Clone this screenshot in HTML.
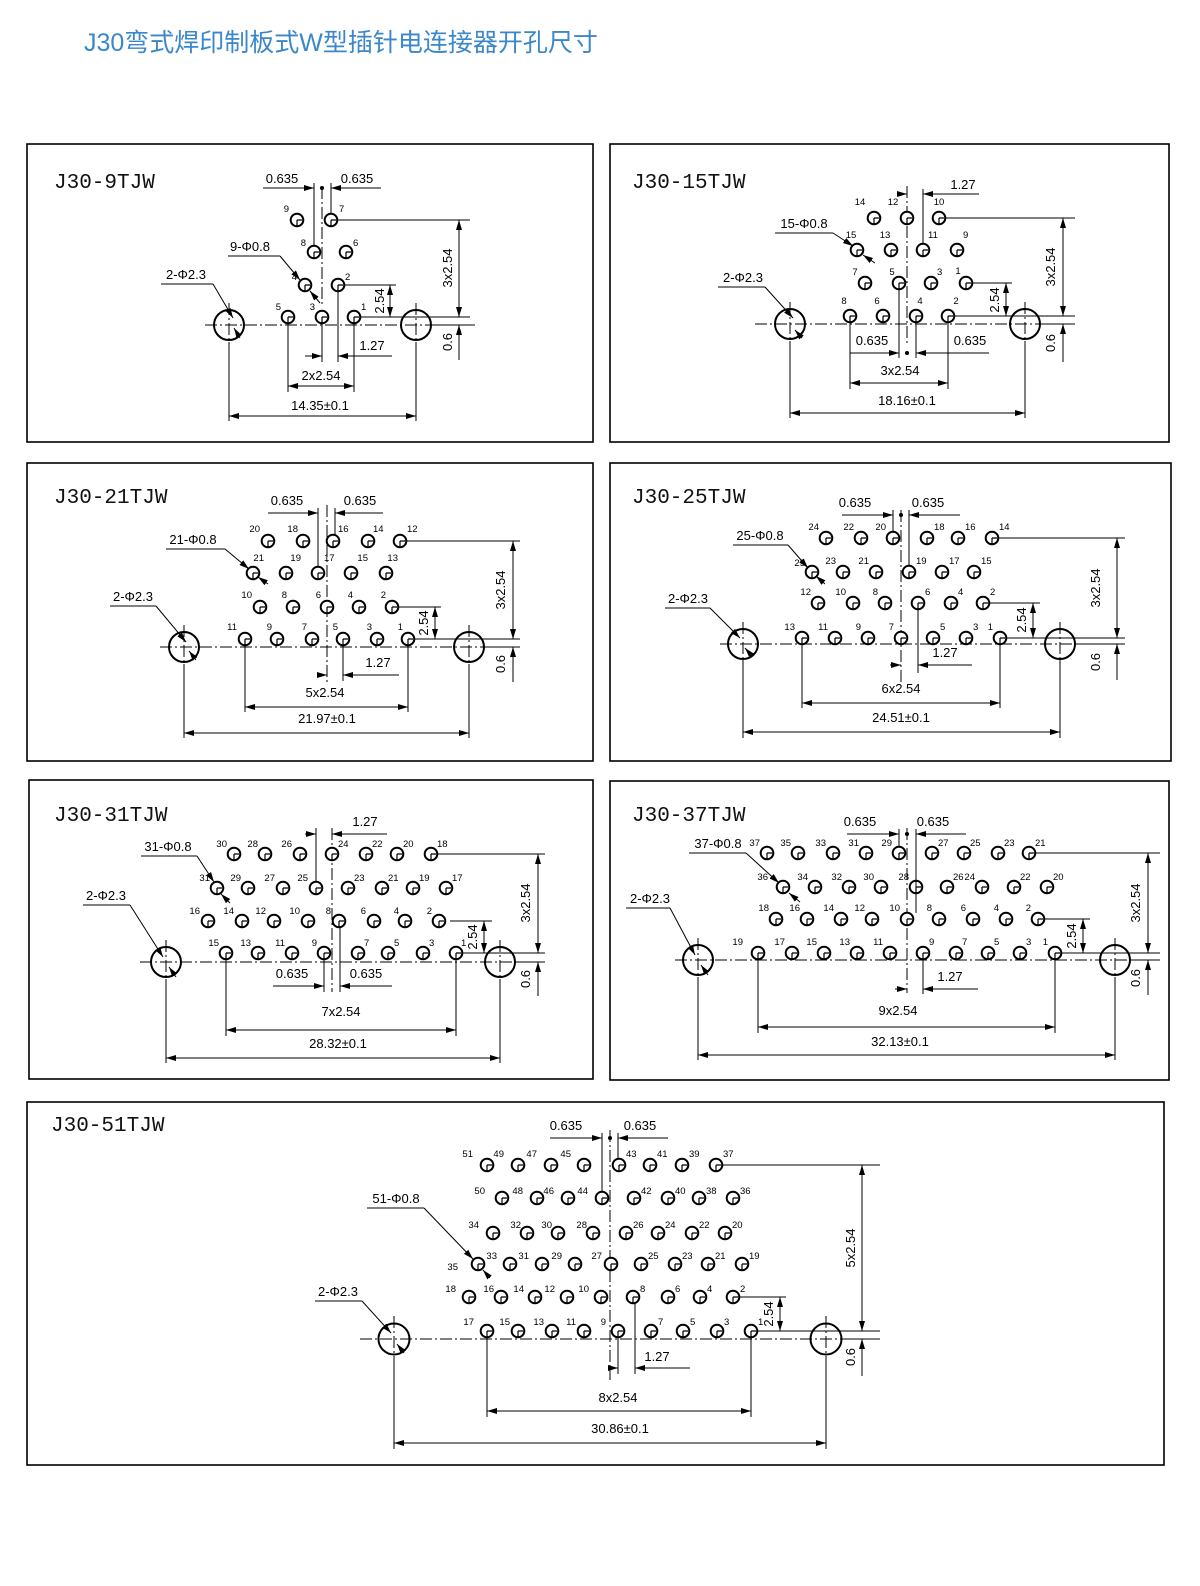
<!DOCTYPE html>
<html><head><meta charset="utf-8"><style>
html,body{margin:0;padding:0;background:#fff}
svg{display:block}
.t{font-family:"Liberation Sans","Noto Sans CJK SC",sans-serif}
.d text{font-family:"Liberation Sans",sans-serif;font-size:13px;fill:#000}
.l text{font-family:"Liberation Sans",sans-serif;font-size:9.5px;fill:#000}
.L{text-anchor:end}.M{text-anchor:middle}
.ttl{font-family:"Liberation Mono",monospace;font-size:21px;fill:#111}
line,path{stroke:#000;stroke-width:1;fill:none}
.c{stroke-dasharray:12 3 2 3}
.bx{fill:none;stroke:#000;stroke-width:1.6}
.h{fill:none;stroke:#000;stroke-width:2}
</style></head><body>
<svg width="1200" height="1586" viewBox="0 0 1200 1586" xmlns="http://www.w3.org/2000/svg">
<defs>
<marker id="a" viewBox="0 0 10 6" refX="10" refY="3" markerWidth="10" markerHeight="6" orient="auto-start-reverse" markerUnits="userSpaceOnUse"><path d="M0,0 L10,3 L0,6z" style="fill:#000;stroke:none"/></marker>
<g id="p"><circle r="6.3" cx="0" cy="0" fill="#fff" stroke="#000" stroke-width="2"/><path d="M0,0 V6 M0,0 H5" style="stroke-width:1.2"/></g>
</defs>
<text x="84" y="51" class="t" style="font-size:25px;fill:#3b87c9">J30弯式焊印制板式W型插针电连接器开孔尺寸</text>

<!-- Panel 1 -->
<rect class="bx" x="27" y="144" width="566" height="298"/>
<text class="ttl" x="54" y="188">J30-9TJW</text>
<line class="c" x1="205" y1="325" x2="475" y2="325"/><line class="c" x1="322" y1="187" x2="322" y2="305"/>
<line class="c" x1="229" y1="303" x2="229" y2="345"/><line class="c" x1="416" y1="303" x2="416" y2="345"/>
<circle class="h" cx="229" cy="325" r="15"/><circle class="h" cx="416" cy="325" r="15"/>
<use href="#p" x="354" y="317"/><use href="#p" x="322" y="317"/><use href="#p" x="288" y="317"/><use href="#p" x="338" y="285"/><use href="#p" x="305" y="285"/><use href="#p" x="346" y="252"/><use href="#p" x="314" y="252"/><use href="#p" x="331" y="220"/><use href="#p" x="297" y="220"/>
<g class="l"><text x="361" y="310">1</text><text class="L" x="315" y="310">3</text><text class="L" x="281" y="310">5</text><text x="345" y="280">2</text><text class="L" x="297" y="280">4</text><text x="353" y="246">6</text><text class="L" x="306" y="246">8</text><text x="339" y="212">7</text><text class="L" x="289" y="212">9</text></g>
<g class="d">
<line x1="263" y1="188" x2="314" y2="188" marker-end="url(#a)"/><line x1="381" y1="188" x2="331" y2="188" marker-end="url(#a)"/><circle cx="322" cy="188" r="2"/>
<line x1="314" y1="183" x2="314" y2="246"/><line x1="331" y1="183" x2="331" y2="214"/>
<text class="M" x="282" y="183">0.635</text><text class="M" x="357" y="183">0.635</text>
<line x1="338" y1="220" x2="470" y2="220"/><line x1="360" y1="317" x2="470" y2="317"/><line x1="431" y1="325" x2="470" y2="325"/>
<line x1="459" y1="220" x2="459" y2="317" marker-start="url(#a)" marker-end="url(#a)"/>
<text class="M" transform="translate(452,268) rotate(-90)">3x2.54</text>
<line x1="344" y1="285" x2="396" y2="285"/><line x1="390" y1="285" x2="390" y2="317" marker-start="url(#a)" marker-end="url(#a)"/>
<text class="M" transform="translate(384,301) rotate(-90)">2.54</text>
<line x1="459" y1="360" x2="459" y2="325" marker-end="url(#a)"/>
<text class="M" transform="translate(452,342) rotate(-90)">0.6</text>
<line x1="322" y1="317" x2="322" y2="362"/><line x1="338" y1="291" x2="338" y2="362"/>
<line x1="305" y1="356" x2="322" y2="356" marker-end="url(#a)"/><line x1="392" y1="356" x2="338" y2="356" marker-end="url(#a)"/>
<text class="M" x="372" y="350">1.27</text>
<line x1="288" y1="323" x2="288" y2="392"/><line x1="354" y1="323" x2="354" y2="392"/>
<line x1="288" y1="386" x2="354" y2="386" marker-start="url(#a)" marker-end="url(#a)"/><text class="M" x="321" y="380">2x2.54</text>
<line x1="229" y1="342" x2="229" y2="421"/><line x1="416" y1="342" x2="416" y2="421"/>
<line x1="229" y1="416" x2="416" y2="416" marker-start="url(#a)" marker-end="url(#a)"/><text class="M" x="320" y="410">14.35±0.1</text>
<text class="M" x="250" y="251">9-Φ0.8</text><line x1="228" y1="256" x2="280" y2="256"/><line x1="280" y1="256" x2="300" y2="280" marker-end="url(#a)"/><line x1="320" y1="303" x2="310" y2="291" marker-end="url(#a)"/>
<text class="M" x="186" y="279">2-Φ2.3</text><line x1="161" y1="284" x2="213" y2="284"/><line x1="213" y1="284" x2="233" y2="318" marker-end="url(#a)"/><line x1="240" y1="338" x2="234" y2="328" marker-end="url(#a)"/>
</g>

<!-- Panel 2 -->
<rect class="bx" x="610" y="144" width="559" height="298"/>
<text class="ttl" x="632" y="188">J30-15TJW</text>
<line class="c" x1="755" y1="324" x2="1075" y2="324"/><line class="c" x1="907" y1="186" x2="907" y2="345"/>
<line class="c" x1="790" y1="302" x2="790" y2="345"/><line class="c" x1="1025" y1="302" x2="1025" y2="345"/>
<circle class="h" cx="790" cy="324" r="15"/><circle class="h" cx="1025" cy="324" r="15"/>
<use href="#p" x="850" y="316"/><use href="#p" x="883" y="316"/><use href="#p" x="916" y="316"/><use href="#p" x="948" y="316"/><use href="#p" x="865" y="283"/><use href="#p" x="899" y="283"/><use href="#p" x="931" y="283"/><use href="#p" x="966" y="283"/><use href="#p" x="857" y="250"/><use href="#p" x="891" y="250"/><use href="#p" x="923" y="250"/><use href="#p" x="957" y="250"/><use href="#p" x="874" y="218"/><use href="#p" x="907" y="218"/><use href="#p" x="939" y="218"/>
<g class="l"><text class="M" x="844" y="304">8</text><text class="M" x="877" y="304">6</text><text class="M" x="920" y="304">4</text><text class="M" x="956" y="304">2</text><text class="M" x="855" y="275">7</text><text class="M" x="892" y="275">5</text><text x="937" y="275">3</text><text class="M" x="958" y="274">1</text><text class="M" x="851" y="238">15</text><text class="M" x="885" y="238">13</text><text x="928" y="238">11</text><text x="963" y="238">9</text><text class="M" x="860" y="205">14</text><text class="M" x="893" y="205">12</text><text class="M" x="939" y="205">10</text></g>
<g class="d">
<line x1="897" y1="194" x2="907" y2="194" marker-end="url(#a)"/><line x1="979" y1="194" x2="923" y2="194" marker-end="url(#a)"/><line x1="923" y1="189" x2="923" y2="244"/>
<text class="M" x="963" y="189">1.27</text>
<line x1="945" y1="218" x2="1075" y2="218"/><line x1="955" y1="316" x2="1075" y2="316"/><line x1="1040" y1="324" x2="1075" y2="324"/>
<line x1="1063" y1="218" x2="1063" y2="316" marker-start="url(#a)" marker-end="url(#a)"/>
<text class="M" transform="translate(1055,267) rotate(-90)">3x2.54</text>
<line x1="972" y1="283" x2="1012" y2="283"/><line x1="1006" y1="283" x2="1006" y2="316" marker-start="url(#a)" marker-end="url(#a)"/>
<text class="M" transform="translate(999,300) rotate(-90)">2.54</text>
<line x1="1063" y1="362" x2="1063" y2="324" marker-end="url(#a)"/><text class="M" transform="translate(1055,343) rotate(-90)">0.6</text>
<line x1="899" y1="289" x2="899" y2="358"/><line x1="916" y1="322" x2="916" y2="358"/>
<line x1="850" y1="353" x2="899" y2="353" marker-end="url(#a)"/><line x1="989" y1="353" x2="916" y2="353" marker-end="url(#a)"/><circle cx="907" cy="353" r="2"/>
<text class="M" x="872" y="345">0.635</text><text class="M" x="970" y="345">0.635</text>
<line x1="850" y1="322" x2="850" y2="389"/><line x1="948" y1="322" x2="948" y2="389"/>
<line x1="850" y1="383" x2="948" y2="383" marker-start="url(#a)" marker-end="url(#a)"/><text class="M" x="900" y="375">3x2.54</text>
<line x1="790" y1="341" x2="790" y2="418"/><line x1="1025" y1="341" x2="1025" y2="418"/>
<line x1="790" y1="413" x2="1025" y2="413" marker-start="url(#a)" marker-end="url(#a)"/><text class="M" x="907" y="405">18.16±0.1</text>
<text class="M" x="804" y="228">15-Φ0.8</text><line x1="775" y1="233" x2="833" y2="233"/><line x1="833" y1="233" x2="853" y2="246" marker-end="url(#a)"/><line x1="875" y1="263" x2="863" y2="255" marker-end="url(#a)"/>
<text class="M" x="743" y="282">2-Φ2.3</text><line x1="718" y1="287" x2="765" y2="287"/><line x1="765" y1="287" x2="793" y2="318" marker-end="url(#a)"/><line x1="802" y1="338" x2="795" y2="330" marker-end="url(#a)"/>
</g>

<!-- Panel 3 -->
<rect class="bx" x="27" y="463" width="566" height="298"/>
<text class="ttl" x="54" y="503">J30-21TJW</text>
<line class="c" x1="160" y1="647" x2="520" y2="647"/><line class="c" x1="327" y1="505" x2="327" y2="682"/>
<line class="c" x1="184" y1="625" x2="184" y2="668"/><line class="c" x1="469" y1="625" x2="469" y2="668"/>
<circle class="h" cx="184" cy="647" r="15"/><circle class="h" cx="469" cy="647" r="15"/>
<use href="#p" x="408" y="639"/><use href="#p" x="377" y="639"/><use href="#p" x="343" y="639"/><use href="#p" x="312" y="639"/><use href="#p" x="277" y="639"/><use href="#p" x="245" y="639"/>
<use href="#p" x="392" y="607"/><use href="#p" x="359" y="607"/><use href="#p" x="327" y="607"/><use href="#p" x="293" y="607"/><use href="#p" x="260" y="607"/>
<use href="#p" x="386" y="573"/><use href="#p" x="351" y="573"/><use href="#p" x="318" y="573"/><use href="#p" x="286" y="573"/><use href="#p" x="253" y="573"/>
<use href="#p" x="400" y="541"/><use href="#p" x="368" y="541"/><use href="#p" x="333" y="541"/><use href="#p" x="303" y="541"/><use href="#p" x="268" y="541"/>
<g class="l"><text class="L" x="403" y="630">1</text><text class="L" x="372" y="630">3</text><text class="L" x="338" y="630">5</text><text class="L" x="307" y="630">7</text><text class="L" x="272" y="630">9</text><text class="L" x="237" y="630">11</text>
<text class="L" x="386" y="598">2</text><text class="L" x="353" y="598">4</text><text class="L" x="321" y="598">6</text><text class="L" x="287" y="598">8</text><text class="L" x="252" y="598">10</text>
<text class="L" x="398" y="561">13</text><text class="L" x="368" y="561">15</text><text x="324" y="561">17</text><text class="L" x="301" y="561">19</text><text class="L" x="264" y="561">21</text>
<text x="407" y="532">12</text><text x="373" y="532">14</text><text x="338" y="532">16</text><text class="L" x="298" y="532">18</text><text class="L" x="260" y="532">20</text></g>
<g class="d">
<line x1="268" y1="513" x2="318" y2="513" marker-end="url(#a)"/><line x1="383" y1="513" x2="335" y2="513" marker-end="url(#a)"/>
<line x1="318" y1="508" x2="318" y2="567"/><line x1="335" y1="508" x2="335" y2="535"/>
<text class="M" x="287" y="505">0.635</text><text class="M" x="360" y="505">0.635</text>
<line x1="406" y1="541" x2="520" y2="541"/><line x1="414" y1="639" x2="520" y2="639"/><line x1="484" y1="647" x2="520" y2="647"/>
<line x1="513" y1="541" x2="513" y2="639" marker-start="url(#a)" marker-end="url(#a)"/><text class="M" transform="translate(505,590) rotate(-90)">3x2.54</text>
<line x1="398" y1="607" x2="441" y2="607"/><line x1="435" y1="607" x2="435" y2="639" marker-start="url(#a)" marker-end="url(#a)"/><text class="M" transform="translate(428,623) rotate(-90)">2.54</text>
<line x1="513" y1="682" x2="513" y2="647" marker-end="url(#a)"/><text class="M" transform="translate(505,664) rotate(-90)">0.6</text>
<line x1="343" y1="645" x2="343" y2="681"/>
<line x1="318" y1="675" x2="327" y2="675" marker-end="url(#a)"/><line x1="399" y1="675" x2="343" y2="675" marker-end="url(#a)"/><text class="M" x="378" y="667">1.27</text>
<line x1="245" y1="645" x2="245" y2="712"/><line x1="408" y1="645" x2="408" y2="712"/>
<line x1="245" y1="707" x2="408" y2="707" marker-start="url(#a)" marker-end="url(#a)"/><text class="M" x="325" y="697">5x2.54</text>
<line x1="184" y1="664" x2="184" y2="738"/><line x1="469" y1="664" x2="469" y2="738"/>
<line x1="184" y1="733" x2="469" y2="733" marker-start="url(#a)" marker-end="url(#a)"/><text class="M" x="327" y="723">21.97±0.1</text>
<text class="M" x="193" y="544">21-Φ0.8</text><line x1="166" y1="549" x2="225" y2="549"/><line x1="225" y1="549" x2="249" y2="569" marker-end="url(#a)"/><line x1="268" y1="584" x2="258" y2="577" marker-end="url(#a)"/>
<text class="M" x="133" y="601">2-Φ2.3</text><line x1="110" y1="606" x2="156" y2="606"/><line x1="156" y1="606" x2="186" y2="642" marker-end="url(#a)"/><line x1="196" y1="660" x2="189" y2="651" marker-end="url(#a)"/>
</g>

<!-- Panel 4 -->
<rect class="bx" x="610" y="463" width="561" height="298"/>
<text class="ttl" x="632" y="503">J30-25TJW</text>
<line class="c" x1="720" y1="644" x2="1125" y2="644"/><line class="c" x1="901" y1="510" x2="901" y2="682"/>
<line class="c" x1="743" y1="622" x2="743" y2="666"/><line class="c" x1="1060" y1="622" x2="1060" y2="666"/>
<circle class="h" cx="743" cy="644" r="15"/><circle class="h" cx="1060" cy="644" r="15"/>
<use href="#p" x="1000" y="638"/><use href="#p" x="966" y="638"/><use href="#p" x="933" y="638"/><use href="#p" x="901" y="638"/><use href="#p" x="868" y="638"/><use href="#p" x="835" y="638"/><use href="#p" x="802" y="638"/>
<use href="#p" x="983" y="603"/><use href="#p" x="951" y="603"/><use href="#p" x="918" y="603"/><use href="#p" x="885" y="603"/><use href="#p" x="853" y="603"/><use href="#p" x="818" y="603"/>
<use href="#p" x="974" y="572"/><use href="#p" x="942" y="572"/><use href="#p" x="909" y="572"/><use href="#p" x="876" y="572"/><use href="#p" x="843" y="572"/><use href="#p" x="812" y="572"/>
<use href="#p" x="992" y="538"/><use href="#p" x="958" y="538"/><use href="#p" x="927" y="538"/><use href="#p" x="893" y="538"/><use href="#p" x="861" y="538"/><use href="#p" x="826" y="538"/>
<g class="l"><text class="L" x="993" y="630">1</text><text x="973" y="630">3</text><text x="940" y="630">5</text><text class="L" x="894" y="630">7</text><text class="L" x="861" y="630">9</text><text class="L" x="828" y="630">11</text><text class="L" x="795" y="630">13</text>
<text x="990" y="595">2</text><text x="958" y="595">4</text><text x="925" y="595">6</text><text class="L" x="878" y="595">8</text><text class="L" x="846" y="595">10</text><text class="L" x="811" y="595">12</text>
<text x="981" y="564">15</text><text x="949" y="564">17</text><text x="916" y="564">19</text><text class="L" x="869" y="564">21</text><text class="L" x="836" y="564">23</text><text class="L" x="805" y="566">25</text>
<text x="999" y="530">14</text><text x="965" y="530">16</text><text x="934" y="530">18</text><text class="L" x="886" y="530">20</text><text class="L" x="854" y="530">22</text><text class="L" x="819" y="530">24</text></g>
<g class="d">
<line x1="842" y1="515" x2="893" y2="515" marker-end="url(#a)"/><line x1="960" y1="515" x2="909" y2="515" marker-end="url(#a)"/><circle cx="901" cy="515" r="2"/>
<line x1="893" y1="510" x2="893" y2="532"/><line x1="909" y1="510" x2="909" y2="566"/>
<text class="M" x="855" y="507">0.635</text><text class="M" x="928" y="507">0.635</text>
<line x1="998" y1="538" x2="1125" y2="538"/><line x1="1006" y1="638" x2="1125" y2="638"/><line x1="1075" y1="644" x2="1125" y2="644"/>
<line x1="1117" y1="538" x2="1117" y2="638" marker-start="url(#a)" marker-end="url(#a)"/><text class="M" transform="translate(1100,588) rotate(-90)">3x2.54</text>
<line x1="989" y1="603" x2="1040" y2="603"/><line x1="1033" y1="603" x2="1033" y2="638" marker-start="url(#a)" marker-end="url(#a)"/><text class="M" transform="translate(1026,620) rotate(-90)">2.54</text>
<line x1="1117" y1="680" x2="1117" y2="644" marker-end="url(#a)"/><text class="M" transform="translate(1100,662) rotate(-90)">0.6</text>
<line x1="918" y1="609" x2="918" y2="673"/>
<line x1="890" y1="665" x2="901" y2="665" marker-end="url(#a)"/><line x1="972" y1="665" x2="918" y2="665" marker-end="url(#a)"/><text class="M" x="945" y="657">1.27</text>
<line x1="802" y1="644" x2="802" y2="708"/><line x1="1000" y1="644" x2="1000" y2="708"/>
<line x1="802" y1="703" x2="1000" y2="703" marker-start="url(#a)" marker-end="url(#a)"/><text class="M" x="901" y="693">6x2.54</text>
<line x1="743" y1="660" x2="743" y2="738"/><line x1="1060" y1="660" x2="1060" y2="738"/>
<line x1="743" y1="732" x2="1060" y2="732" marker-start="url(#a)" marker-end="url(#a)"/><text class="M" x="901" y="722">24.51±0.1</text>
<text class="M" x="760" y="540">25-Φ0.8</text><line x1="733" y1="545" x2="788" y2="545"/><line x1="788" y1="545" x2="808" y2="568" marker-end="url(#a)"/><line x1="825" y1="584" x2="816" y2="576" marker-end="url(#a)"/>
<text class="M" x="688" y="603">2-Φ2.3</text><line x1="665" y1="608" x2="710" y2="608"/><line x1="710" y1="608" x2="740" y2="638" marker-end="url(#a)"/><line x1="752" y1="656" x2="745" y2="648" marker-end="url(#a)"/>
</g>

<!-- Panel 5 -->
<rect class="bx" x="29" y="780" width="564" height="299"/>
<text class="ttl" x="54" y="821">J30-31TJW</text>
<line class="c" x1="140" y1="962" x2="545" y2="962"/><line class="c" x1="332" y1="828" x2="332" y2="992"/>
<line class="c" x1="166" y1="940" x2="166" y2="984"/><line class="c" x1="500" y1="940" x2="500" y2="984"/>
<circle class="h" cx="166" cy="962" r="15"/><circle class="h" cx="500" cy="962" r="15"/>
<use href="#p" x="456" y="953"/><use href="#p" x="423" y="953"/><use href="#p" x="388" y="953"/><use href="#p" x="358" y="953"/><use href="#p" x="324" y="953"/><use href="#p" x="292" y="953"/><use href="#p" x="258" y="953"/><use href="#p" x="226" y="953"/>
<use href="#p" x="439" y="921"/><use href="#p" x="405" y="921"/><use href="#p" x="374" y="921"/><use href="#p" x="339" y="921"/><use href="#p" x="308" y="921"/><use href="#p" x="274" y="921"/><use href="#p" x="242" y="921"/><use href="#p" x="208" y="921"/>
<use href="#p" x="446" y="888"/><use href="#p" x="413" y="888"/><use href="#p" x="382" y="888"/><use href="#p" x="348" y="888"/><use href="#p" x="316" y="888"/><use href="#p" x="283" y="888"/><use href="#p" x="248" y="888"/><use href="#p" x="217" y="888"/>
<use href="#p" x="431" y="854"/><use href="#p" x="397" y="854"/><use href="#p" x="366" y="854"/><use href="#p" x="332" y="854"/><use href="#p" x="300" y="854"/><use href="#p" x="265" y="854"/><use href="#p" x="234" y="854"/>
<g class="l"><text x="461" y="946">1</text><text x="429" y="946">3</text><text x="394" y="946">5</text><text x="364" y="946">7</text><text class="L" x="317" y="946">9</text><text class="L" x="285" y="946">11</text><text class="L" x="251" y="946">13</text><text class="L" x="219" y="946">15</text>
<text class="L" x="432" y="914">2</text><text class="L" x="399" y="914">4</text><text class="L" x="366" y="914">6</text><text class="L" x="331" y="914">8</text><text class="L" x="300" y="914">10</text><text class="L" x="266" y="914">12</text><text class="L" x="234" y="914">14</text><text class="L" x="200" y="914">16</text>
<text x="452" y="881">17</text><text x="419" y="881">19</text><text x="388" y="881">21</text><text x="354" y="881">23</text><text class="L" x="308" y="881">25</text><text class="L" x="275" y="881">27</text><text class="L" x="241" y="881">29</text><text class="L" x="210" y="881">31</text>
<text x="437" y="847">18</text><text x="403" y="847">20</text><text x="372" y="847">22</text><text x="338" y="847">24</text><text class="L" x="292" y="847">26</text><text class="L" x="258" y="847">28</text><text class="L" x="227" y="847">30</text></g>
<g class="d">
<line x1="305" y1="834" x2="316" y2="834" marker-end="url(#a)"/><line x1="387" y1="834" x2="332" y2="834" marker-end="url(#a)"/><line x1="316" y1="828" x2="316" y2="882"/>
<text class="M" x="365" y="826">1.27</text>
<line x1="324" y1="959" x2="324" y2="992"/><line x1="340" y1="927" x2="340" y2="992"/>
<line x1="273" y1="986" x2="324" y2="986" marker-end="url(#a)"/><line x1="392" y1="986" x2="340" y2="986" marker-end="url(#a)"/>
<text class="M" x="292" y="978">0.635</text><text class="M" x="366" y="978">0.635</text>
<line x1="437" y1="854" x2="545" y2="854"/><line x1="462" y1="953" x2="545" y2="953"/><line x1="515" y1="962" x2="545" y2="962"/>
<line x1="538" y1="854" x2="538" y2="953" marker-start="url(#a)" marker-end="url(#a)"/><text class="M" transform="translate(530,903) rotate(-90)">3x2.54</text>
<line x1="450" y1="921" x2="492" y2="921"/><line x1="484" y1="921" x2="484" y2="953" marker-start="url(#a)" marker-end="url(#a)"/><text class="M" transform="translate(477,937) rotate(-90)">2.54</text>
<line x1="538" y1="996" x2="538" y2="962" marker-end="url(#a)"/><text class="M" transform="translate(530,979) rotate(-90)">0.6</text>
<line x1="226" y1="959" x2="226" y2="1036"/><line x1="456" y1="959" x2="456" y2="1036"/>
<line x1="226" y1="1030" x2="456" y2="1030" marker-start="url(#a)" marker-end="url(#a)"/><text class="M" x="341" y="1016">7x2.54</text>
<line x1="166" y1="979" x2="166" y2="1063"/><line x1="500" y1="979" x2="500" y2="1063"/>
<line x1="166" y1="1058" x2="500" y2="1058" marker-start="url(#a)" marker-end="url(#a)"/><text class="M" x="338" y="1048">28.32±0.1</text>
<text class="M" x="168" y="851">31-Φ0.8</text><line x1="141" y1="856" x2="197" y2="856"/><line x1="197" y1="856" x2="214" y2="882" marker-end="url(#a)"/><line x1="230" y1="903" x2="221" y2="894" marker-end="url(#a)"/>
<text class="M" x="106" y="900">2-Φ2.3</text><line x1="83" y1="905" x2="130" y2="905"/><line x1="130" y1="905" x2="163" y2="957" marker-end="url(#a)"/><line x1="176" y1="977" x2="169" y2="967" marker-end="url(#a)"/>
</g>

<!-- Panel 6 -->
<rect class="bx" x="610" y="781" width="559" height="299"/>
<text class="ttl" x="632" y="821">J30-37TJW</text>
<line class="c" x1="675" y1="960" x2="1160" y2="960"/><line class="c" x1="907" y1="828" x2="907" y2="993"/>
<line class="c" x1="698" y1="938" x2="698" y2="982"/><line class="c" x1="1115" y1="938" x2="1115" y2="982"/>
<circle class="h" cx="698" cy="960" r="15"/><circle class="h" cx="1115" cy="960" r="15"/>
<use href="#p" x="1055" y="953"/><use href="#p" x="1020" y="953"/><use href="#p" x="988" y="953"/><use href="#p" x="956" y="953"/><use href="#p" x="923" y="953"/><use href="#p" x="890" y="953"/><use href="#p" x="857" y="953"/><use href="#p" x="824" y="953"/><use href="#p" x="792" y="953"/><use href="#p" x="758" y="953"/>
<use href="#p" x="1038" y="919"/><use href="#p" x="1006" y="919"/><use href="#p" x="973" y="919"/><use href="#p" x="939" y="919"/><use href="#p" x="907" y="919"/><use href="#p" x="872" y="919"/><use href="#p" x="841" y="919"/><use href="#p" x="807" y="919"/><use href="#p" x="776" y="919"/>
<use href="#p" x="1047" y="887"/><use href="#p" x="1014" y="887"/><use href="#p" x="982" y="887"/><use href="#p" x="947" y="887"/><use href="#p" x="916" y="887"/><use href="#p" x="881" y="887"/><use href="#p" x="849" y="887"/><use href="#p" x="815" y="887"/><use href="#p" x="783" y="887"/>
<use href="#p" x="1029" y="853"/><use href="#p" x="998" y="853"/><use href="#p" x="964" y="853"/><use href="#p" x="932" y="853"/><use href="#p" x="899" y="853"/><use href="#p" x="866" y="853"/><use href="#p" x="833" y="853"/><use href="#p" x="798" y="853"/><use href="#p" x="767" y="853"/>
<g class="l"><text class="L" x="1048" y="945">1</text><text x="1026" y="945">3</text><text x="994" y="945">5</text><text x="962" y="945">7</text><text x="929" y="945">9</text><text class="L" x="883" y="945">11</text><text class="L" x="850" y="945">13</text><text class="L" x="817" y="945">15</text><text class="L" x="785" y="945">17</text><text class="L" x="743" y="945">19</text>
<text class="L" x="1031" y="911">2</text><text class="L" x="999" y="911">4</text><text class="L" x="966" y="911">6</text><text class="L" x="932" y="911">8</text><text class="L" x="900" y="911">10</text><text class="L" x="865" y="911">12</text><text class="L" x="834" y="911">14</text><text class="L" x="800" y="911">16</text><text class="L" x="769" y="911">18</text>
<text x="1053" y="880">20</text><text x="1020" y="880">22</text><text class="L" x="975" y="880">24</text><text x="953" y="880">26</text><text class="L" x="909" y="880">28</text><text class="L" x="874" y="880">30</text><text class="L" x="842" y="880">32</text><text class="L" x="808" y="880">34</text><text class="L" x="768" y="880">36</text>
<text x="1035" y="846">21</text><text x="1004" y="846">23</text><text x="970" y="846">25</text><text x="938" y="846">27</text><text class="L" x="892" y="846">29</text><text class="L" x="859" y="846">31</text><text class="L" x="826" y="846">33</text><text class="L" x="791" y="846">35</text><text class="L" x="760" y="846">37</text></g>
<g class="d">
<line x1="847" y1="834" x2="899" y2="834" marker-end="url(#a)"/><line x1="966" y1="834" x2="916" y2="834" marker-end="url(#a)"/><circle cx="907" cy="834" r="2"/>
<line x1="899" y1="829" x2="899" y2="847"/><line x1="916" y1="829" x2="916" y2="913"/>
<text class="M" x="860" y="826">0.635</text><text class="M" x="933" y="826">0.635</text>
<line x1="1035" y1="853" x2="1160" y2="853"/><line x1="1061" y1="953" x2="1160" y2="953"/><line x1="1130" y1="960" x2="1160" y2="960"/>
<line x1="1148" y1="853" x2="1148" y2="953" marker-start="url(#a)" marker-end="url(#a)"/><text class="M" transform="translate(1140,903) rotate(-90)">3x2.54</text>
<line x1="1044" y1="919" x2="1090" y2="919"/><line x1="1083" y1="919" x2="1083" y2="953" marker-start="url(#a)" marker-end="url(#a)"/><text class="M" transform="translate(1076,936) rotate(-90)">2.54</text>
<line x1="1148" y1="995" x2="1148" y2="960" marker-end="url(#a)"/><text class="M" transform="translate(1140,978) rotate(-90)">0.6</text>
<line x1="923" y1="959" x2="923" y2="994"/>
<line x1="895" y1="989" x2="907" y2="989" marker-end="url(#a)"/><line x1="978" y1="989" x2="923" y2="989" marker-end="url(#a)"/><text class="M" x="950" y="981">1.27</text>
<line x1="758" y1="959" x2="758" y2="1033"/><line x1="1055" y1="959" x2="1055" y2="1033"/>
<line x1="758" y1="1027" x2="1055" y2="1027" marker-start="url(#a)" marker-end="url(#a)"/><text class="M" x="898" y="1015">9x2.54</text>
<line x1="698" y1="977" x2="698" y2="1060"/><line x1="1115" y1="977" x2="1115" y2="1060"/>
<line x1="698" y1="1055" x2="1115" y2="1055" marker-start="url(#a)" marker-end="url(#a)"/><text class="M" x="900" y="1046">32.13±0.1</text>
<text class="M" x="718" y="848">37-Φ0.8</text><line x1="689" y1="853" x2="746" y2="853"/><line x1="746" y1="853" x2="779" y2="883" marker-end="url(#a)"/><line x1="800" y1="902" x2="789" y2="893" marker-end="url(#a)"/>
<text class="M" x="650" y="903">2-Φ2.3</text><line x1="626" y1="908" x2="670" y2="908"/><line x1="670" y1="908" x2="695" y2="955" marker-end="url(#a)"/><line x1="708" y1="975" x2="701" y2="965" marker-end="url(#a)"/>
</g>

<!-- Panel 7 -->
<rect class="bx" x="27" y="1102" width="1137" height="363"/>
<text class="ttl" x="51" y="1131">J30-51TJW</text>
<line class="c" x1="360" y1="1339" x2="880" y2="1339"/><line class="c" x1="610" y1="1130" x2="610" y2="1380"/>
<line class="c" x1="394" y1="1316" x2="394" y2="1362"/><line class="c" x1="826" y1="1316" x2="826" y2="1362"/>
<circle class="h" cx="394" cy="1339" r="15.5"/><circle class="h" cx="826" cy="1339" r="15.5"/>
<use href="#p" x="487" y="1165"/><use href="#p" x="518" y="1165"/><use href="#p" x="551" y="1165"/><use href="#p" x="584" y="1165"/><use href="#p" x="619" y="1165"/><use href="#p" x="650" y="1165"/><use href="#p" x="682" y="1165"/><use href="#p" x="716" y="1165"/>
<use href="#p" x="502" y="1198"/><use href="#p" x="537" y="1198"/><use href="#p" x="568" y="1198"/><use href="#p" x="602" y="1198"/><use href="#p" x="634" y="1198"/><use href="#p" x="668" y="1198"/><use href="#p" x="699" y="1198"/><use href="#p" x="733" y="1198"/>
<use href="#p" x="493" y="1233"/><use href="#p" x="527" y="1233"/><use href="#p" x="558" y="1233"/><use href="#p" x="593" y="1233"/><use href="#p" x="626" y="1233"/><use href="#p" x="658" y="1233"/><use href="#p" x="692" y="1233"/><use href="#p" x="725" y="1233"/>
<use href="#p" x="478" y="1264"/><use href="#p" x="510" y="1264"/><use href="#p" x="542" y="1264"/><use href="#p" x="575" y="1264"/><use href="#p" x="611" y="1264"/><use href="#p" x="641" y="1264"/><use href="#p" x="675" y="1264"/><use href="#p" x="708" y="1264"/><use href="#p" x="742" y="1264"/>
<use href="#p" x="469" y="1297"/><use href="#p" x="501" y="1297"/><use href="#p" x="535" y="1297"/><use href="#p" x="567" y="1297"/><use href="#p" x="601" y="1297"/><use href="#p" x="633" y="1297"/><use href="#p" x="668" y="1297"/><use href="#p" x="700" y="1297"/><use href="#p" x="733" y="1297"/>
<use href="#p" x="487" y="1331"/><use href="#p" x="518" y="1331"/><use href="#p" x="552" y="1331"/><use href="#p" x="584" y="1331"/><use href="#p" x="618" y="1331"/><use href="#p" x="651" y="1331"/><use href="#p" x="683" y="1331"/><use href="#p" x="717" y="1331"/><use href="#p" x="751" y="1331"/>
<g class="l"><text class="L" x="473" y="1157">51</text><text class="L" x="504" y="1157">49</text><text class="L" x="537" y="1157">47</text><text class="L" x="571" y="1157">45</text><text x="626" y="1157">43</text><text x="657" y="1157">41</text><text x="689" y="1157">39</text><text x="723" y="1157">37</text>
<text class="L" x="485" y="1194">50</text><text class="L" x="523" y="1194">48</text><text class="L" x="554" y="1194">46</text><text class="L" x="588" y="1194">44</text><text x="641" y="1194">42</text><text x="675" y="1194">40</text><text x="706" y="1194">38</text><text x="740" y="1194">36</text>
<text class="L" x="479" y="1228">34</text><text class="L" x="521" y="1228">32</text><text class="L" x="552" y="1228">30</text><text class="L" x="587" y="1228">28</text><text x="633" y="1228">26</text><text x="665" y="1228">24</text><text x="699" y="1228">22</text><text x="732" y="1228">20</text>
<text class="L" x="458" y="1270">35</text><text class="L" x="497" y="1259">33</text><text class="L" x="529" y="1259">31</text><text class="L" x="562" y="1259">29</text><text class="L" x="602" y="1259">27</text><text x="648" y="1259">25</text><text x="682" y="1259">23</text><text x="715" y="1259">21</text><text x="749" y="1259">19</text>
<text class="L" x="456" y="1292">18</text><text class="L" x="494" y="1292">16</text><text class="L" x="524" y="1292">14</text><text class="L" x="555" y="1292">12</text><text class="L" x="589" y="1292">10</text><text x="640" y="1292">8</text><text x="675" y="1292">6</text><text x="707" y="1292">4</text><text x="740" y="1292">2</text>
<text class="L" x="474" y="1325">17</text><text class="L" x="510" y="1325">15</text><text class="L" x="544" y="1325">13</text><text class="L" x="576" y="1325">11</text><text class="L" x="606" y="1325">9</text><text x="658" y="1325">7</text><text x="690" y="1325">5</text><text x="724" y="1325">3</text><text x="758" y="1325">1</text></g>
<g class="d">
<line x1="550" y1="1138" x2="602" y2="1138" marker-end="url(#a)"/><line x1="668" y1="1138" x2="618" y2="1138" marker-end="url(#a)"/><circle cx="610" cy="1138" r="2"/>
<line x1="602" y1="1133" x2="602" y2="1192"/><line x1="618" y1="1133" x2="618" y2="1159"/>
<text class="M" x="566" y="1130">0.635</text><text class="M" x="640" y="1130">0.635</text>
<line x1="722" y1="1165" x2="880" y2="1165"/><line x1="757" y1="1331" x2="880" y2="1331"/><line x1="842" y1="1339" x2="880" y2="1339"/>
<line x1="862" y1="1165" x2="862" y2="1331" marker-start="url(#a)" marker-end="url(#a)"/><text class="M" transform="translate(855,1248) rotate(-90)">5x2.54</text>
<line x1="739" y1="1297" x2="786" y2="1297"/><line x1="780" y1="1297" x2="780" y2="1331" marker-start="url(#a)" marker-end="url(#a)"/><text class="M" transform="translate(773,1314) rotate(-90)">2.54</text>
<line x1="862" y1="1376" x2="862" y2="1339" marker-end="url(#a)"/><text class="M" transform="translate(855,1357) rotate(-90)">0.6</text>
<line x1="635" y1="1303" x2="635" y2="1374"/><line x1="618" y1="1337" x2="618" y2="1374"/>
<line x1="608" y1="1368" x2="618" y2="1368" marker-end="url(#a)"/><line x1="690" y1="1368" x2="635" y2="1368" marker-end="url(#a)"/><text class="M" x="657" y="1361">1.27</text>
<line x1="487" y1="1337" x2="487" y2="1417"/><line x1="751" y1="1337" x2="751" y2="1417"/>
<line x1="487" y1="1411" x2="751" y2="1411" marker-start="url(#a)" marker-end="url(#a)"/><text class="M" x="618" y="1402">8x2.54</text>
<line x1="394" y1="1356" x2="394" y2="1449"/><line x1="826" y1="1356" x2="826" y2="1449"/>
<line x1="394" y1="1443" x2="826" y2="1443" marker-start="url(#a)" marker-end="url(#a)"/><text class="M" x="620" y="1433">30.86±0.1</text>
<text class="M" x="396" y="1203">51-Φ0.8</text><line x1="367" y1="1208" x2="424" y2="1208"/><line x1="424" y1="1208" x2="473" y2="1259" marker-end="url(#a)"/><line x1="490" y1="1278" x2="483" y2="1270" marker-end="url(#a)"/>
<text class="M" x="338" y="1296">2-Φ2.3</text><line x1="315" y1="1301" x2="362" y2="1301"/><line x1="362" y1="1301" x2="391" y2="1333" marker-end="url(#a)"/><line x1="404" y1="1353" x2="397" y2="1344" marker-end="url(#a)"/>
</g>
</svg>
</body></html>
